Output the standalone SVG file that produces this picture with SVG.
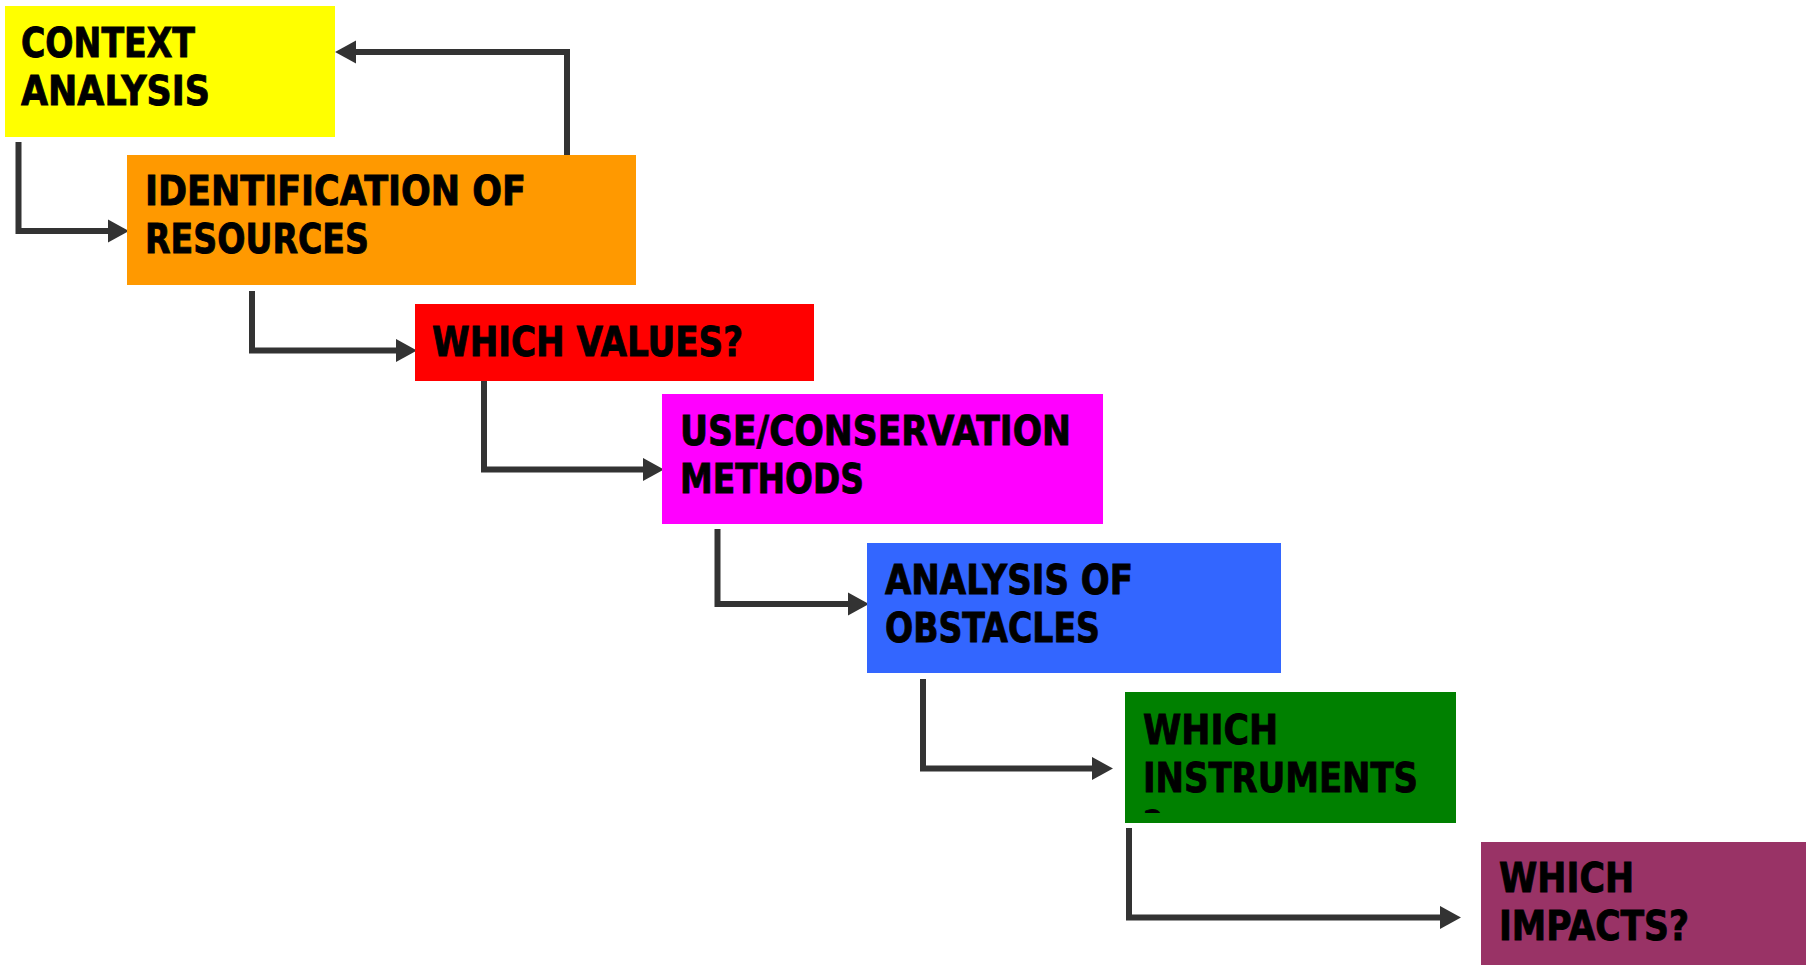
<svg xmlns="http://www.w3.org/2000/svg" width="1806" height="965" viewBox="0 0 1806 965">
<style>
.lbl{font-family:"DejaVu Sans","Verdana",sans-serif;font-weight:bold;font-size:40px;fill:#000;stroke:#000;stroke-width:0.9px}
.con{fill:none;stroke:#333333;stroke-width:6;stroke-linejoin:miter;stroke-linecap:butt}
</style>
<defs>
<marker id="ah" markerUnits="userSpaceOnUse" markerWidth="22" markerHeight="24" refX="0" refY="11" orient="auto" viewBox="0 0 21 22">
<polygon points="0,0 20,11 0,22" fill="#333333"/>
</marker>
<clipPath id="gclip"><rect x="1125" y="692" width="331" height="121"/></clipPath>
</defs>
<rect width="1806" height="965" fill="#ffffff"/>
<g id="connectors">
<path class="con" d="M567 155 V52 H356" marker-end="url(#ah)"/>
<path class="con" d="M18.5 142 V231 H108" marker-end="url(#ah)"/>
<path class="con" d="M252 291 V350.5 H396" marker-end="url(#ah)"/>
<path class="con" d="M484 381 V469.5 H643" marker-end="url(#ah)"/>
<path class="con" d="M717.5 529 V604 H848" marker-end="url(#ah)"/>
<path class="con" d="M923 679 V768.5 H1092" marker-end="url(#ah)"/>
<path class="con" d="M1129 828 V917.5 H1440" marker-end="url(#ah)"/>
</g>
<g id="context">
<rect x="5" y="6" width="330" height="131" fill="#FFFF00"/>
<text class="lbl" x="21" y="57" textLength="174" lengthAdjust="spacingAndGlyphs">CONTEXT</text>
<text class="lbl" x="21" y="105" textLength="189" lengthAdjust="spacingAndGlyphs">ANALYSIS</text>
</g>
<g id="resources">
<rect x="127" y="155" width="509" height="130" fill="#FF9900"/>
<text class="lbl" x="145" y="205" textLength="381" lengthAdjust="spacingAndGlyphs">IDENTIFICATION OF</text>
<text class="lbl" x="145" y="253" textLength="224" lengthAdjust="spacingAndGlyphs">RESOURCES</text>
</g>
<g id="values">
<rect x="415" y="304" width="399" height="77" fill="#FF0000"/>
<text class="lbl" x="432" y="356" textLength="311" lengthAdjust="spacingAndGlyphs">WHICH VALUES?</text>
</g>
<g id="methods">
<rect x="662" y="394" width="441" height="130" fill="#FF00FF"/>
<text class="lbl" x="680" y="445" textLength="391" lengthAdjust="spacingAndGlyphs">USE/CONSERVATION</text>
<text class="lbl" x="680" y="493" textLength="184" lengthAdjust="spacingAndGlyphs">METHODS</text>
</g>
<g id="obstacles">
<rect x="867" y="543" width="414" height="130" fill="#3366FF"/>
<text class="lbl" x="885" y="594" textLength="248" lengthAdjust="spacingAndGlyphs">ANALYSIS OF</text>
<text class="lbl" x="885" y="642" textLength="215" lengthAdjust="spacingAndGlyphs">OBSTACLES</text>
</g>
<g id="instruments">
<rect x="1125" y="692" width="331" height="131" fill="#008000"/>
<text class="lbl" x="1143" y="744" textLength="135" lengthAdjust="spacingAndGlyphs">WHICH</text>
<text class="lbl" x="1143" y="792" textLength="275" lengthAdjust="spacingAndGlyphs">INSTRUMENTS</text>
<text class="lbl" x="1143" y="840" clip-path="url(#gclip)" textLength="20" lengthAdjust="spacingAndGlyphs">?</text>
</g>
<g id="impacts">
<rect x="1481" y="842" width="325" height="123" fill="#993366"/>
<text class="lbl" x="1499" y="892" textLength="135" lengthAdjust="spacingAndGlyphs">WHICH</text>
<text class="lbl" x="1499" y="940" textLength="190" lengthAdjust="spacingAndGlyphs">IMPACTS?</text>
</g>
</svg>
